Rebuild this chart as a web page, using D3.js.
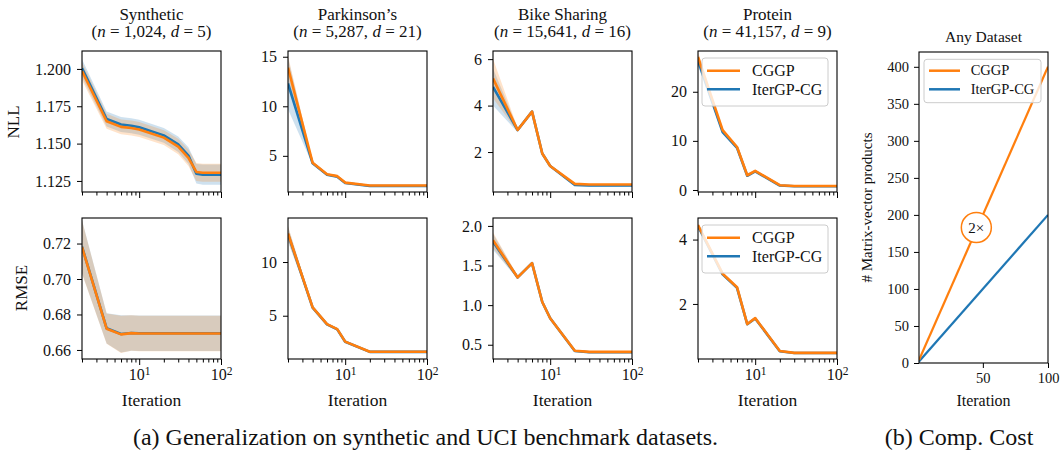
<!DOCTYPE html>
<html>
<head>
<meta charset="utf-8">
<script src="https://cdn.jsdelivr.net/npm/d3@7"></script>
<style>
  body { margin: 0; background: #fff; }
</style>
</head>
<body>
<div id="chart"></div>
<script>
// ---------- Data ----------
const iterations = [2, 4, 6, 8, 10, 20, 30, 40, 50, 60, 70, 80, 90, 100]

// Synthetic
const synNllCggp   = [1.1985, 1.1650, 1.1612, 1.1605, 1.1595, 1.1540, 1.1480, 1.1405, 1.1310, 1.1305, 1.1305, 1.1305, 1.1305, 1.1305]
const synNllCggpSd = [0.0060, 0.0050, 0.0050, 0.0050, 0.0050, 0.0050, 0.0052, 0.0055, 0.0060, 0.0060, 0.0060, 0.0060, 0.0060, 0.0060]
const synNllIter   = [1.2005, 1.1665, 1.1628, 1.1620, 1.1610, 1.1555, 1.1495, 1.1420, 1.1298, 1.1292, 1.1292, 1.1292, 1.1292, 1.1292]
const synNllIterSd = [0.0060, 0.0050, 0.0050, 0.0050, 0.0050, 0.0050, 0.0052, 0.0055, 0.0065, 0.0068, 0.0068, 0.0068, 0.0068, 0.0068]
const synRmseCggp   = [0.7180, 0.6720, 0.6688, 0.6695, 0.6693, 0.6693, 0.6693, 0.6693, 0.6693, 0.6693, 0.6693, 0.6693, 0.6693, 0.6693]
const synRmseCggpSd = [0.0150, 0.0085, 0.0105, 0.0100, 0.0100, 0.0100, 0.0100, 0.0100, 0.0100, 0.0100, 0.0100, 0.0100, 0.0100, 0.0100]
const synRmseIter   = [0.7182, 0.6722, 0.6690, 0.6696, 0.6694, 0.6694, 0.6694, 0.6694, 0.6694, 0.6694, 0.6694, 0.6694, 0.6694, 0.6694]
const synRmseIterSd = [0.0150, 0.0085, 0.0105, 0.0100, 0.0100, 0.0100, 0.0100, 0.0100, 0.0100, 0.0100, 0.0100, 0.0100, 0.0100, 0.0100]

// Parkinson's
const parNllCggp   = [13.9, 4.30, 3.15, 2.95, 2.30, 2.00, 2.00, 2.00, 2.00, 2.00, 2.00, 2.00, 2.00, 2.00]
const parNllCggpSd = [1.20, 0.15, 0.10, 0.10, 0.08, 0.06, 0.06, 0.06, 0.06, 0.06, 0.06, 0.06, 0.06, 0.06]
const parNllIter   = [12.3, 4.25, 3.10, 2.90, 2.25, 1.95, 1.95, 1.95, 1.95, 1.95, 1.95, 1.95, 1.95, 1.95]
const parNllIterSd = [2.60, 0.15, 0.10, 0.10, 0.08, 0.06, 0.06, 0.06, 0.06, 0.06, 0.06, 0.06, 0.06, 0.06]
const parRmseCggp   = [12.66, 5.78, 4.22, 3.75, 2.59, 1.65, 1.65, 1.65, 1.65, 1.65, 1.65, 1.65, 1.65, 1.65]
const parRmseCggpSd = [0.70, 0.12, 0.10, 0.10, 0.08, 0.08, 0.08, 0.08, 0.08, 0.08, 0.08, 0.08, 0.08, 0.08]
const parRmseIter   = [12.60, 5.76, 4.20, 3.73, 2.57, 1.63, 1.63, 1.63, 1.63, 1.63, 1.63, 1.63, 1.63, 1.63]
const parRmseIterSd = [0.70, 0.12, 0.10, 0.10, 0.08, 0.08, 0.08, 0.08, 0.08, 0.08, 0.08, 0.08, 0.08, 0.08]

// Bike Sharing
const bikeNllCggp   = [5.17, 2.95, 3.74, 1.94, 1.40, 0.63, 0.60, 0.60, 0.60, 0.60, 0.60, 0.60, 0.60, 0.60]
const bikeNllCggpSd = [0.85, 0.08, 0.05, 0.05, 0.05, 0.04, 0.04, 0.04, 0.04, 0.04, 0.04, 0.04, 0.04, 0.04]
const bikeNllIter   = [4.80, 2.95, 3.74, 1.94, 1.40, 0.58, 0.56, 0.56, 0.56, 0.56, 0.56, 0.56, 0.56, 0.56]
const bikeNllIterSd = [0.80, 0.10, 0.05, 0.05, 0.05, 0.04, 0.04, 0.04, 0.04, 0.04, 0.04, 0.04, 0.04, 0.04]
const bikeRmseCggp   = [1.82, 1.35, 1.53, 1.04, 0.835, 0.425, 0.41, 0.41, 0.41, 0.41, 0.41, 0.41, 0.41, 0.41]
const bikeRmseCggpSd = [0.10, 0.02, 0.01, 0.01, 0.01, 0.01, 0.01, 0.01, 0.01, 0.01, 0.01, 0.01, 0.01, 0.01]
const bikeRmseIter   = [1.80, 1.35, 1.53, 1.04, 0.835, 0.42, 0.405, 0.405, 0.405, 0.405, 0.405, 0.405, 0.405, 0.405]
const bikeRmseIterSd = [0.10, 0.02, 0.01, 0.01, 0.01, 0.01, 0.01, 0.01, 0.01, 0.01, 0.01, 0.01, 0.01, 0.01]

// Protein
const protNllCggp   = [27.1, 12.2, 8.75, 3.0, 3.9, 0.97, 0.80, 0.80, 0.80, 0.80, 0.80, 0.80, 0.80, 0.80]
const protNllCggpSd = [1.0, 0.3, 0.2, 0.1, 0.1, 0.05, 0.05, 0.05, 0.05, 0.05, 0.05, 0.05, 0.05, 0.05]
const protNllIter   = [26.3, 11.8, 8.6, 2.9, 3.8, 0.90, 0.75, 0.75, 0.75, 0.75, 0.75, 0.75, 0.75, 0.75]
const protNllIterSd = [1.0, 0.3, 0.2, 0.1, 0.1, 0.05, 0.05, 0.05, 0.05, 0.05, 0.05, 0.05, 0.05, 0.05]
const protRmseCggp   = [4.45, 2.94, 2.52, 1.375, 1.56, 0.54, 0.48, 0.48, 0.48, 0.48, 0.48, 0.48, 0.48, 0.48]
const protRmseCggpSd = [0.05, 0.03, 0.02, 0.02, 0.02, 0.01, 0.01, 0.01, 0.01, 0.01, 0.01, 0.01, 0.01, 0.01]
const protRmseIter   = [4.42, 2.92, 2.50, 1.37, 1.55, 0.53, 0.475, 0.475, 0.475, 0.475, 0.475, 0.475, 0.475, 0.475]
const protRmseIterSd = [0.05, 0.03, 0.02, 0.02, 0.02, 0.01, 0.01, 0.01, 0.01, 0.01, 0.01, 0.01, 0.01, 0.01]

// Computational cost
const costIterations = [1, 100]
const costCggp = [4, 400]
const costIter = [2, 200]

const datasetNames = ['Synthetic', "Parkinson\u2019s", 'Bike Sharing', 'Protein']
const datasetN = ['1,024', '5,287', '15,641', '41,157']
const datasetD = ['5', '21', '16', '9']
const seriesNames = ['CGGP', 'IterGP-CG']

// ---------- Layout ----------
const serif = '"Liberation Serif", "Times New Roman", serif'
const dimensions = { width: 1060, height: 451 }
const colX = [82, 288, 493, 698]
const rowY = [51, 218]
const pw = 139, ph = 141
const orange = '#ff7f0e', blue = '#1f77b4'

const svg = d3.select('#chart')
              .append('svg')
              .attr('width', dimensions.width)
              .attr('height', dimensions.height)
              .style('font-family', serif)

const panels = [
  {col: 0, row: 0, cggp: synNllCggp, cggpSd: synNllCggpSd, iter: synNllIter, iterSd: synNllIterSd, yDomain: [1.1176, 1.212], yTicks: [1.125, 1.150, 1.175, 1.200], fmt: '.3f'},
  {col: 1, row: 0, cggp: parNllCggp, cggpSd: parNllCggpSd, iter: parNllIter, iterSd: parNllIterSd, yDomain: [1.35, 15.58], yTicks: [5, 10, 15], fmt: 'd'},
  {col: 2, row: 0, cggp: bikeNllCggp, cggpSd: bikeNllCggpSd, iter: bikeNllIter, iterSd: bikeNllIterSd, yDomain: [0.28, 6.35], yTicks: [2, 4, 6], fmt: 'd'},
  {col: 3, row: 0, cggp: protNllCggp, cggpSd: protNllCggpSd, iter: protNllIter, iterSd: protNllIterSd, yDomain: [-0.41, 28.3], yTicks: [0, 10, 20], fmt: 'd', legend: true},
  {col: 0, row: 1, cggp: synRmseCggp, cggpSd: synRmseCggpSd, iter: synRmseIter, iterSd: synRmseIterSd, yDomain: [0.6549, 0.7344], yTicks: [0.66, 0.68, 0.70, 0.72], fmt: '.2f'},
  {col: 1, row: 1, cggp: parRmseCggp, cggpSd: parRmseCggpSd, iter: parRmseIter, iterSd: parRmseIterSd, yDomain: [0.97, 14.1], yTicks: [5, 10], fmt: 'd'},
  {col: 2, row: 1, cggp: bikeRmseCggp, cggpSd: bikeRmseCggpSd, iter: bikeRmseIter, iterSd: bikeRmseIterSd, yDomain: [0.32, 2.10], yTicks: [0.5, 1.0, 1.5, 2.0], fmt: '.1f'},
  {col: 3, row: 1, cggp: protRmseCggp, cggpSd: protRmseCggpSd, iter: protRmseIter, iterSd: protRmseIterSd, yDomain: [0.29, 4.67], yTicks: [2, 4], fmt: 'd', legend: true}
]

const defs = svg.append('defs')

function drawLegend(g, x0, y0, w, h, fontSize, lineX, textX, rowYs) {
  g.append('rect')
   .attr('x', x0).attr('y', y0).attr('width', w).attr('height', h)
   .attr('rx', 3)
   .attr('fill', 'white').attr('fill-opacity', 0.8)
   .attr('stroke', '#cccccc').attr('stroke-width', 1)
  const colors = [orange, blue]
  seriesNames.forEach((name, k) => {
    g.append('line')
     .attr('x1', lineX[0]).attr('x2', lineX[1])
     .attr('y1', rowYs[k]).attr('y2', rowYs[k])
     .attr('stroke', colors[k]).attr('stroke-width', 2.5)
    g.append('text')
     .attr('x', textX).attr('y', rowYs[k])
     .attr('dy', '0.33em')
     .attr('font-size', fontSize + 'px')
     .text(name)
  })
}

function styleAxis(sel, size) {
  sel.attr('font-size', size + 'px').attr('font-family', serif)
  sel.select('.domain').remove()
  sel.selectAll('text').attr('fill', '#111')
}

panels.forEach((p, i) => {
  const g = svg.append('g')
               .attr('transform', `translate(${colX[p.col]},${rowY[p.row]})`)

  const xScale = d3.scaleLog().domain([2, 100]).range([0, pw])
  const yScale = d3.scaleLinear().domain(p.yDomain).range([ph, 0])

  defs.append('clipPath').attr('id', 'clip' + i)
      .append('rect').attr('width', pw).attr('height', ph)

  const plot = g.append('g').attr('clip-path', `url(#clip${i})`)

  const series = [
    {mean: p.iter, sd: p.iterSd, color: blue},
    {mean: p.cggp, sd: p.cggpSd, color: orange}
  ]

  const area = d3.area()
                 .x(d => xScale(d.it))
                 .y0(d => yScale(d.m - d.s))
                 .y1(d => yScale(d.m + d.s))
  const line = d3.line()
                 .x(d => xScale(d.it))
                 .y(d => yScale(d.m))

  series.forEach(s => {
    const pts = iterations.map((it, k) => ({it: it, m: s.mean[k], s: s.sd[k]}))
    plot.append('path').datum(pts)
        .attr('d', area)
        .attr('fill', s.color)
        .attr('fill-opacity', 0.22)
  })
  series.forEach(s => {
    const pts = iterations.map((it, k) => ({it: it, m: s.mean[k], s: s.sd[k]}))
    plot.append('path').datum(pts)
        .attr('d', line)
        .attr('fill', 'none')
        .attr('stroke', s.color)
        .attr('stroke-width', 2.6)
        .attr('stroke-linejoin', 'round')
  })

  // Y axis
  g.append('g')
   .call(d3.axisLeft(yScale).tickValues(p.yTicks).tickFormat(d3.format(p.fmt)).tickSize(5).tickPadding(6))
   .call(s => styleAxis(s, 16))

  // X axis, minor ticks
  const minor = [2, 3, 4, 5, 6, 7, 8, 9, 20, 30, 40, 50, 60, 70, 80, 90]
  g.append('g')
   .attr('transform', `translate(0,${ph})`)
   .call(d3.axisBottom(xScale).tickValues(minor).tickFormat('').tickSize(3.5))
   .call(s => styleAxis(s, 16))

  // X axis, major ticks
  const majorGroup = g.append('g')
                      .attr('transform', `translate(0,${ph})`)
                      .call(d3.axisBottom(xScale).tickValues([10, 100]).tickSize(6).tickPadding(4))
                      .call(s => styleAxis(s, 16))
  majorGroup.selectAll('text').each(function(d) {
    const t = d3.select(this)
    t.text('')
    if (p.row === 1) {
      t.append('tspan').text('10')
      t.append('tspan').attr('dy', '-0.45em').attr('font-size', '11.5px').text(Math.round(Math.log10(d)))
    }
  })

  // Frame
  g.append('rect')
   .attr('width', pw).attr('height', ph)
   .attr('fill', 'none')
   .attr('stroke', 'black')
   .attr('stroke-width', 1.1)

  if (p.legend) {
    drawLegend(g, 4, 7, 126, 48, 16, [9, 42], 54, [19.7, 38.3])
  }

  if (p.row === 1) {
    g.append('text')
     .attr('x', pw / 2).attr('y', 188)
     .attr('text-anchor', 'middle')
     .attr('font-size', '17.5px')
     .text('Iteration')
  }
})

// Titles
datasetNames.forEach((name, c) => {
  svg.append('text')
     .attr('x', colX[c] + pw / 2).attr('y', 19.5)
     .attr('text-anchor', 'middle')
     .attr('font-size', '17px')
     .text(name)
  const sub = svg.append('text')
     .attr('x', colX[c] + pw / 2).attr('y', 36.5)
     .attr('text-anchor', 'middle')
     .attr('font-size', '17px')
  sub.append('tspan').text('(')
  sub.append('tspan').attr('font-style', 'italic').text('n')
  sub.append('tspan').text(' = ' + datasetN[c] + ', ')
  sub.append('tspan').attr('font-style', 'italic').text('d')
  sub.append('tspan').text(' = ' + datasetD[c] + ')')
})

// Row labels
svg.append('text')
   .attr('transform', 'translate(13,122) rotate(-90)')
   .attr('text-anchor', 'middle')
   .attr('dy', '0.35em')
   .attr('font-size', '17px')
   .text('NLL')
svg.append('text')
   .attr('transform', 'translate(21,288) rotate(-90)')
   .attr('text-anchor', 'middle')
   .attr('dy', '0.35em')
   .attr('font-size', '17px')
   .text('RMSE')

// ---------- Cost panel ----------
const cost = { left: 919, top: 52, width: 129, height: 311 }
const costG = svg.append('g').attr('transform', `translate(${cost.left},${cost.top})`)
const cx = d3.scaleLinear().domain([1, 100]).range([0, cost.width])
const cy = d3.scaleLinear().domain([0, 420]).range([cost.height, 0])

defs.append('clipPath').attr('id', 'clipCost')
    .append('rect').attr('width', cost.width).attr('height', cost.height)
const costPlot = costG.append('g').attr('clip-path', 'url(#clipCost)')

const costLine = d3.line().x(d => cx(d[0])).y(d => cy(d[1]))
costPlot.append('path')
        .datum(costIterations.map((it, k) => [it, costIter[k]]))
        .attr('d', costLine)
        .attr('fill', 'none').attr('stroke', blue).attr('stroke-width', 2.2)
costPlot.append('path')
        .datum(costIterations.map((it, k) => [it, costCggp[k]]))
        .attr('d', costLine)
        .attr('fill', 'none').attr('stroke', orange).attr('stroke-width', 2.2)

costG.append('g')
     .call(d3.axisLeft(cy).tickValues(d3.range(0, 401, 50)).tickSize(5).tickPadding(5))
     .call(s => styleAxis(s, 14.5))
costG.append('g')
     .attr('transform', `translate(0,${cost.height})`)
     .call(d3.axisBottom(cx).tickValues([50, 100]).tickSize(5).tickPadding(5))
     .call(s => styleAxis(s, 14.5))

costG.append('rect')
     .attr('width', cost.width).attr('height', cost.height)
     .attr('fill', 'none').attr('stroke', 'black').attr('stroke-width', 1.1)

// "2x" marker
costG.append('circle')
     .attr('cx', cx(45)).attr('cy', cy(183))
     .attr('r', 15)
     .attr('fill', 'white')
     .attr('stroke', orange).attr('stroke-width', 1.5)
costG.append('text')
     .attr('x', cx(45)).attr('y', cy(183))
     .attr('dy', '0.35em')
     .attr('text-anchor', 'middle')
     .attr('font-size', '15px')
     .text('2\u00d7')

drawLegend(costG, 5, 7.3, 117, 43.4, 14.5, [10, 41], 51.7, [18.7, 37.3])

svg.append('text')
   .attr('x', cost.left + cost.width / 2).attr('y', 42)
   .attr('text-anchor', 'middle')
   .attr('font-size', '15.5px')
   .text('Any Dataset')
svg.append('text')
   .attr('x', cost.left + cost.width / 2).attr('y', 406)
   .attr('text-anchor', 'middle')
   .attr('font-size', '16px')
   .text('Iteration')
svg.append('text')
   .attr('transform', 'translate(867,207.5) rotate(-90)')
   .attr('text-anchor', 'middle')
   .attr('dy', '0.35em')
   .attr('font-size', '15px')
   .text('# Matrix-vector products')

// Captions
svg.append('text')
   .attr('x', 425.5).attr('y', 445)
   .attr('text-anchor', 'middle')
   .attr('font-size', '24px')
   .text('(a) Generalization on synthetic and UCI benchmark datasets.')
svg.append('text')
   .attr('x', 959).attr('y', 445)
   .attr('text-anchor', 'middle')
   .attr('font-size', '24px')
   .text('(b) Comp. Cost')

// one font for every label
svg.selectAll('text').style('font-family', serif).style('fill', '#111')
</script>
</body>
</html>
